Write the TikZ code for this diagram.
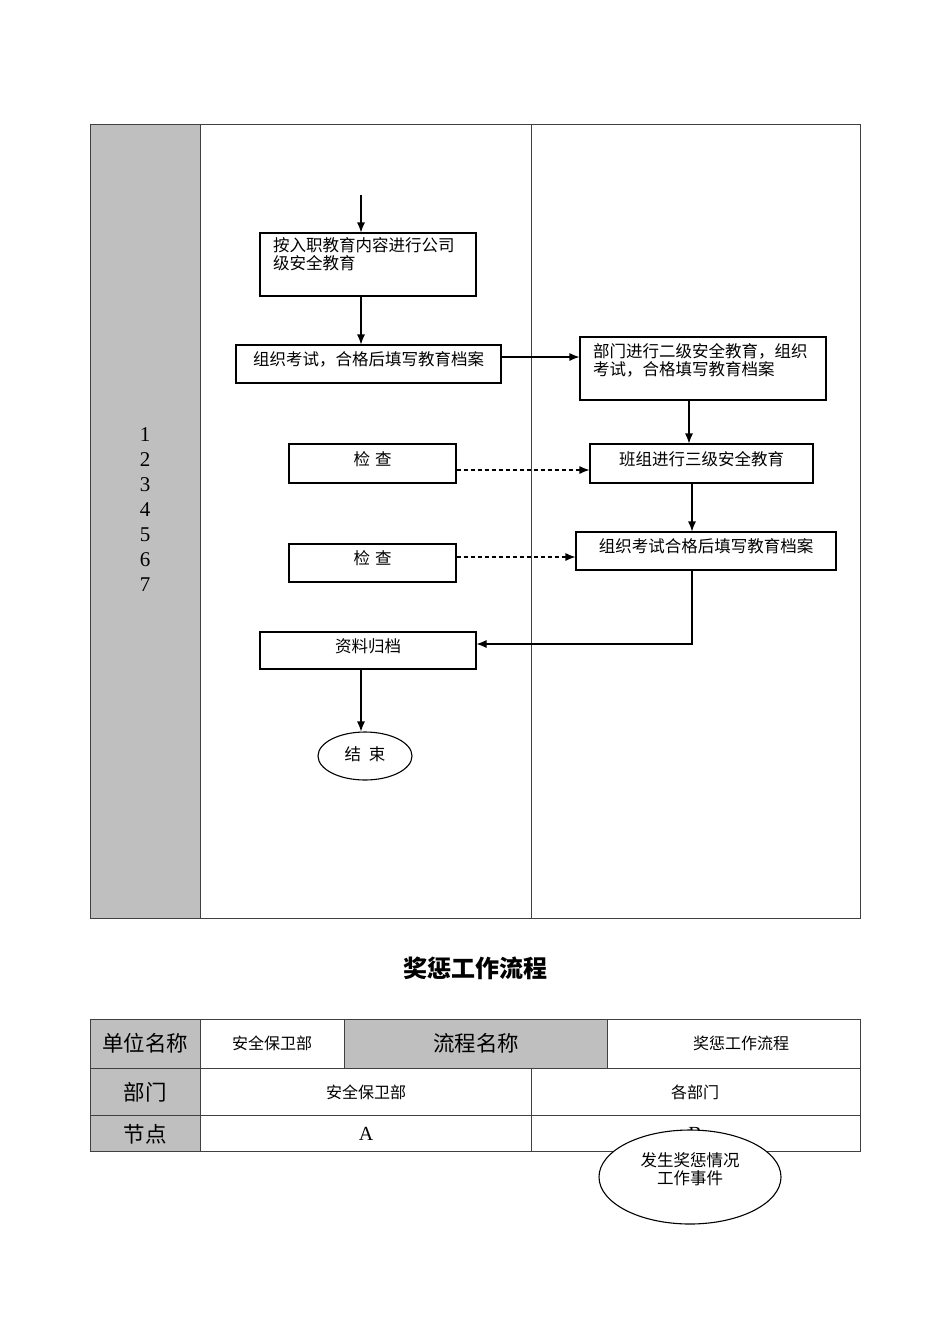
\documentclass[tikz,border=0pt]{standalone}
\usepackage{fontspec}
\usepackage{tikz}
\newfontfamily\cjk{Noto Sans CJK SC}
\newfontfamily\numfont{Liberation Serif}
\usetikzlibrary{arrows}
\usetikzlibrary{arrows.meta}
\usetikzlibrary{positioning}
\usetikzlibrary{shapes.geometric}
\definecolor{lanegray}{rgb}{0.75, 0.75, 0.75}
\definecolor{rulegray}{rgb}{0.25, 0.25, 0.25}
\tikzset{
  box/.style={draw, line width=1.1pt, inner sep=0pt, font=\cjk\fontsize{16.5}{18}\selectfont, text height=11pt, text depth=8pt},
  txt/.style={inner sep=0pt, align=left, font=\cjk\fontsize{16.5}{18}\selectfont},
  cell/.style={inner sep=0pt, font=\cjk\fontsize{16}{18}\selectfont},
  head/.style={inner sep=0pt, font=\cjk\fontsize{21.5}{24}\selectfont},
  dashline/.style={dashed, dash pattern=on 4pt off 3pt},
}

\begin{document}
\begin{tikzpicture}[x=1pt, y=-1pt, >={Latex[length=10pt, width=8pt]}, line width=1.1pt]
          \useasboundingbox (0, 0) rectangle (950, 1344);

          % swim lanes
          \fill [lanegray] (90, 124) rectangle (200, 918);
          \draw [rulegray, line width=1pt] (90, 124) rectangle (860, 918);
          \draw [rulegray, line width=1pt] (200, 124) -- (200, 918);
          \draw [rulegray, line width=1pt] (531, 124) -- (531, 918);
          \node [align=center, inner sep=0pt, font=\numfont\fontsize{21}{25}\selectfont] (nums) at (145, 510) {1\\2\\3\\4\\5\\6\\7};

          % steps
          \coordinate (start) at (361, 195);
          \node [box, minimum width=216, minimum height=63] (b1) at (368, 264.5) {};
          \node [txt, anchor=north west] (b1t) at ([xshift=13pt, yshift=-5pt]b1.north west) {按入职教育内容进行公司\\级安全教育};
          \node [box, minimum width=265, minimum height=38] (b2) at (368.5, 364) {组织考试，合格后填写教育档案};
          \node [box, minimum width=246, minimum height=63] (b3) at (703, 368.5) {};
          \node [txt, anchor=north west] (b3t) at ([xshift=13pt, yshift=-6pt]b3.north west) {部门进行二级安全教育，组织\\考试，合格填写教育档案};
          \node [box, minimum width=223, minimum height=39] (b4) at (701.5, 463.5) {班组进行三级安全教育};
          \node [box, minimum width=167, minimum height=39] (c1) at (372.5, 463.5) {检\hspace{5pt}查};
          \node [box, minimum width=260, minimum height=38] (b5) at (706, 551) {组织考试合格后填写教育档案};
          \node [box, minimum width=167, minimum height=38] (c2) at (372.5, 563) {检\hspace{5pt}查};
          \node [box, minimum width=216, minimum height=37] (b6) at (368, 650.5) {资料归档};
          \node [box, ellipse, minimum width=94, minimum height=48, text height=12pt, text depth=3pt] (end) at (365, 756) {结\hspace{8pt}束};

          \draw [->] (start) -- (start |- b1.north);
          \draw [->] (b1.south -| start) -- (b2.north -| start);
          \draw [->] ([yshift=7pt]b2.east) -- ([yshift=7pt]b2.east -| b3.west);
          \draw [->] ([xshift=-14pt]b3.south) -- ([xshift=-14pt]b3.south |- b4.north);
          \draw [->, dashline] ([yshift=-6.5pt]c1.east) -- ([yshift=-6.5pt]c1.east -| b4.west);
          \draw [->] ([xshift=-9.5pt]b4.south) -- ([xshift=-9.5pt]b4.south |- b5.north);
          \draw [->, dashline] ([yshift=6pt]c2.east) -- ([yshift=6pt]c2.east -| b5.west);
          \draw [->] ([xshift=-14pt]b5.south) |- ([yshift=6.5pt]b6.east);
          \draw [->] ([xshift=-7pt]b6.south) -- ([xshift=-7pt]b6.south |- end.north);

          % second flow
          \node [inner sep=0pt, font=\cjk\bfseries\fontsize{24}{28}\selectfont] (title) at (475, 968) {奖惩工作流程};

          \fill [lanegray] (90, 1019) rectangle (200, 1151);
          \fill [lanegray] (344, 1019) rectangle (607, 1068);
          \begin{scope}[rulegray, line width=1pt]
            \draw (90, 1019) rectangle (860, 1151);
            \draw (90, 1068) -- (860, 1068);
            \draw (90, 1115) -- (860, 1115);
            \draw (200, 1019) -- (200, 1151);
            \draw (344, 1019) -- (344, 1068);
            \draw (607, 1019) -- (607, 1068);
            \draw (531, 1068) -- (531, 1151);
          \end{scope}

          \node [head] (unit) at (145, 1043) {单位名称};
          \node [cell] (unitname) at (272, 1043) {安全保卫部};
          \node [head] (flow) at (476, 1043) {流程名称};
          \node [cell] (flowname) at (741, 1043) {奖惩工作流程};
          \node [head] (dept) at (145, 1092) {部门};
          \node [cell] (depta) at (366, 1092) {安全保卫部};
          \node [cell] (deptb) at (695, 1092) {各部门};
          \node [head] (node) at (145, 1134) {节点};
          \node [inner sep=0pt, font=\numfont\fontsize{20}{22}\selectfont] (na) at (366, 1134) {A};
          \node [inner sep=0pt, font=\numfont\fontsize{20}{22}\selectfont] (nb) at (695, 1134) {B};

          \node [draw, ellipse, fill=white, minimum width=182, minimum height=94] (event) at (690, 1177) {};
          \node [txt, align=center] (eventt) at (690, 1169) {发生奖惩情况\\工作事件};
        \end{tikzpicture}
\end{document}
